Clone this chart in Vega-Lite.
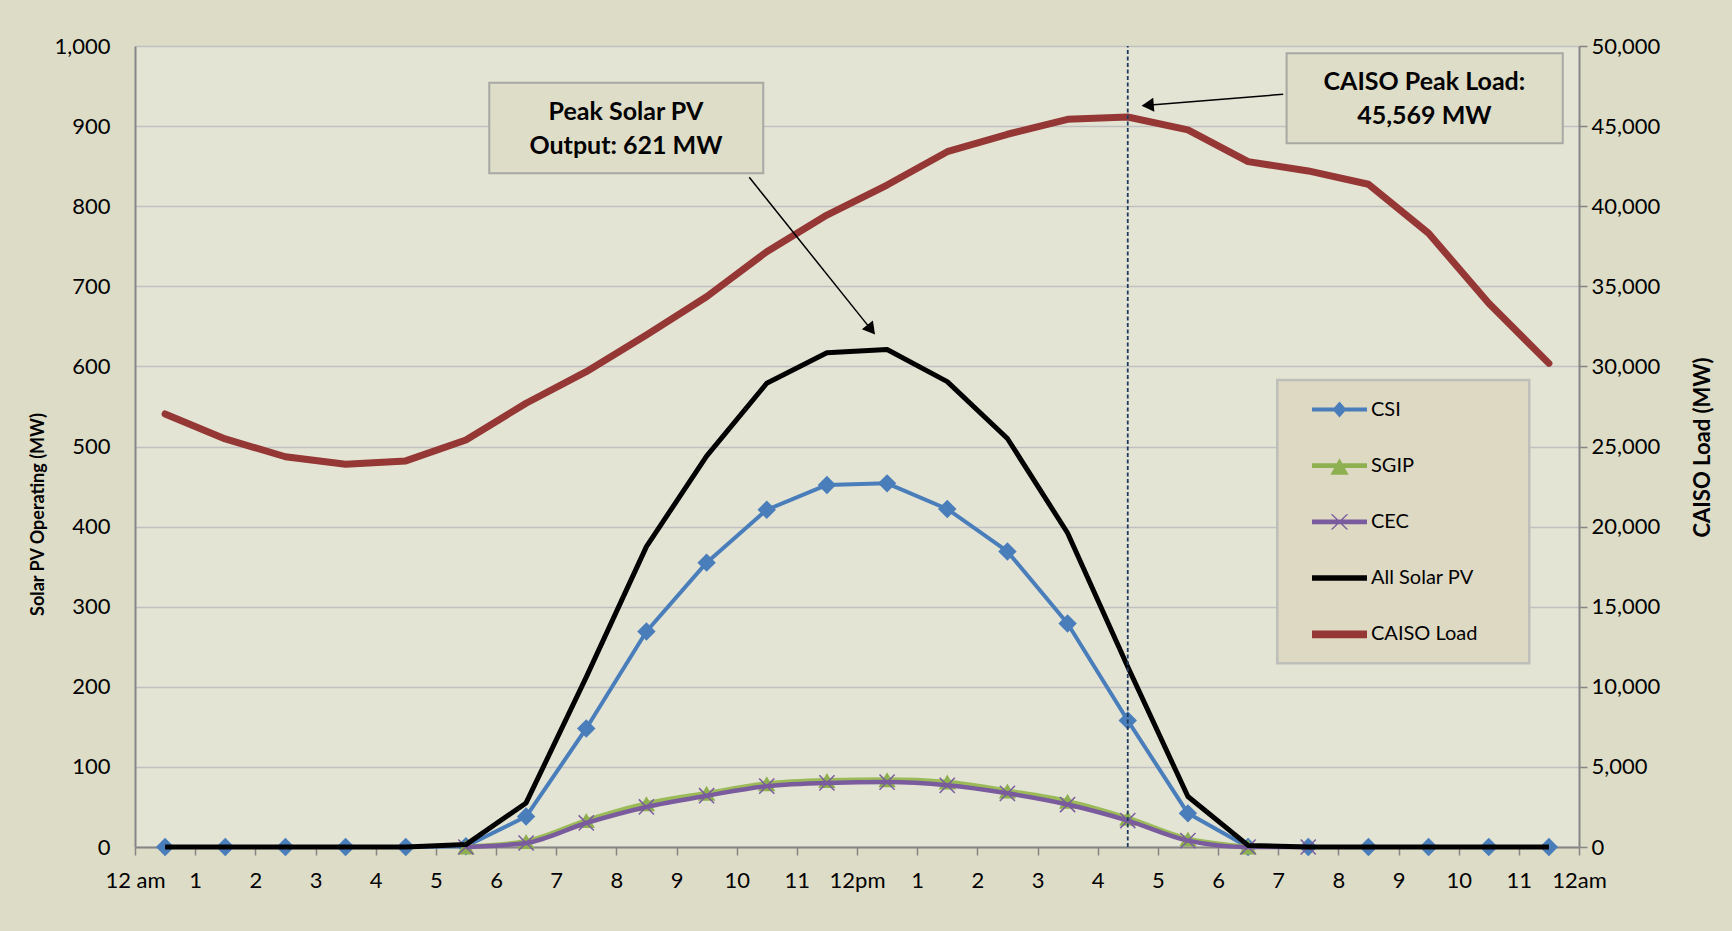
{
  "$schema": "https://vega.github.io/schema/vega-lite/v6.json",
  "width": 1444,
  "height": 801,
  "autosize": "none",
  "padding": {"left": 135, "top": 46, "right": 153, "bottom": 84},
  "background": "#DDDCC6",
  "config": {
    "font": "Lato",
    "view": {"fill": "#E4E4D5", "stroke": null},
    "axis": {
      "labelFont": "Lato",
      "titleFont": "Lato",
      "labelColor": "#000000",
      "titleColor": "#000000",
      "domainColor": "#868686",
      "domainWidth": 2,
      "tickColor": "#868686",
      "tickWidth": 1.5,
      "gridColor": "#C0C0C0",
      "gridWidth": 1.5
    }
  },
  "datasets": {
    "caiso": [
      {"h": 0.5, "load": 27030}, {"h": 1.5, "load": 25470}, {"h": 2.5, "load": 24360}, {"h": 3.5, "load": 23890},
      {"h": 4.5, "load": 24100}, {"h": 5.5, "load": 25410}, {"h": 6.5, "load": 27700}, {"h": 7.5, "load": 29670},
      {"h": 8.5, "load": 31960}, {"h": 9.5, "load": 34350}, {"h": 10.5, "load": 37160}, {"h": 11.5, "load": 39450},
      {"h": 12.5, "load": 41320}, {"h": 13.5, "load": 43400}, {"h": 14.5, "load": 44490}, {"h": 15.5, "load": 45420},
      {"h": 16.5, "load": 45569}, {"h": 17.5, "load": 44760}, {"h": 18.5, "load": 42780}, {"h": 19.5, "load": 42200},
      {"h": 20.5, "load": 41370}, {"h": 21.5, "load": 38310}, {"h": 22.5, "load": 33940}, {"h": 23.5, "load": 30190}
    ],
    "solar": [
      {"s": "CSI", "h": 0.5, "v": 0}, {"s": "CSI", "h": 1.5, "v": 0}, {"s": "CSI", "h": 2.5, "v": 0}, {"s": "CSI", "h": 3.5, "v": 0},
      {"s": "CSI", "h": 4.5, "v": 0}, {"s": "CSI", "h": 5.5, "v": 1}, {"s": "CSI", "h": 6.5, "v": 38}, {"s": "CSI", "h": 7.5, "v": 148},
      {"s": "CSI", "h": 8.5, "v": 269}, {"s": "CSI", "h": 9.5, "v": 355}, {"s": "CSI", "h": 10.5, "v": 421}, {"s": "CSI", "h": 11.5, "v": 452},
      {"s": "CSI", "h": 12.5, "v": 454}, {"s": "CSI", "h": 13.5, "v": 422}, {"s": "CSI", "h": 14.5, "v": 369}, {"s": "CSI", "h": 15.5, "v": 279},
      {"s": "CSI", "h": 16.5, "v": 158}, {"s": "CSI", "h": 17.5, "v": 42}, {"s": "CSI", "h": 18.5, "v": 0}, {"s": "CSI", "h": 19.5, "v": 0},
      {"s": "CSI", "h": 20.5, "v": 0}, {"s": "CSI", "h": 21.5, "v": 0}, {"s": "CSI", "h": 22.5, "v": 0}, {"s": "CSI", "h": 23.5, "v": 0},
      {"s": "SGIP", "h": 5.5, "v": 0}, {"s": "SGIP", "h": 6.5, "v": 7}, {"s": "SGIP", "h": 7.5, "v": 33}, {"s": "SGIP", "h": 8.5, "v": 54},
      {"s": "SGIP", "h": 9.5, "v": 67}, {"s": "SGIP", "h": 10.5, "v": 79}, {"s": "SGIP", "h": 11.5, "v": 83}, {"s": "SGIP", "h": 12.5, "v": 84},
      {"s": "SGIP", "h": 13.5, "v": 81}, {"s": "SGIP", "h": 14.5, "v": 70}, {"s": "SGIP", "h": 15.5, "v": 57}, {"s": "SGIP", "h": 16.5, "v": 36},
      {"s": "SGIP", "h": 17.5, "v": 10}, {"s": "SGIP", "h": 18.5, "v": 0},
      {"s": "CEC", "h": 5.5, "v": 0}, {"s": "CEC", "h": 6.5, "v": 5}, {"s": "CEC", "h": 7.5, "v": 30}, {"s": "CEC", "h": 8.5, "v": 50},
      {"s": "CEC", "h": 9.5, "v": 64}, {"s": "CEC", "h": 10.5, "v": 76}, {"s": "CEC", "h": 11.5, "v": 80}, {"s": "CEC", "h": 12.5, "v": 81},
      {"s": "CEC", "h": 13.5, "v": 77}, {"s": "CEC", "h": 14.5, "v": 67}, {"s": "CEC", "h": 15.5, "v": 53}, {"s": "CEC", "h": 16.5, "v": 33},
      {"s": "CEC", "h": 17.5, "v": 8}, {"s": "CEC", "h": 18.5, "v": 0}, {"s": "CEC", "h": 19.5, "v": 0},
      {"s": "All Solar PV", "h": 0.5, "v": 0}, {"s": "All Solar PV", "h": 1.5, "v": 0}, {"s": "All Solar PV", "h": 2.5, "v": 0}, {"s": "All Solar PV", "h": 3.5, "v": 0},
      {"s": "All Solar PV", "h": 4.5, "v": 0}, {"s": "All Solar PV", "h": 5.5, "v": 3}, {"s": "All Solar PV", "h": 6.5, "v": 55}, {"s": "All Solar PV", "h": 7.5, "v": 212},
      {"s": "All Solar PV", "h": 8.5, "v": 375}, {"s": "All Solar PV", "h": 9.5, "v": 488}, {"s": "All Solar PV", "h": 10.5, "v": 579}, {"s": "All Solar PV", "h": 11.5, "v": 617},
      {"s": "All Solar PV", "h": 12.5, "v": 621}, {"s": "All Solar PV", "h": 13.5, "v": 581}, {"s": "All Solar PV", "h": 14.5, "v": 510}, {"s": "All Solar PV", "h": 15.5, "v": 392},
      {"s": "All Solar PV", "h": 16.5, "v": 225}, {"s": "All Solar PV", "h": 17.5, "v": 63}, {"s": "All Solar PV", "h": 18.5, "v": 2}, {"s": "All Solar PV", "h": 19.5, "v": 0},
      {"s": "All Solar PV", "h": 20.5, "v": 0}, {"s": "All Solar PV", "h": 21.5, "v": 0}, {"s": "All Solar PV", "h": 22.5, "v": 0}, {"s": "All Solar PV", "h": 23.5, "v": 0}
    ],
    "boxes": [
      {"name": "peak solar", "h": 5.888, "h2": 10.442, "v": 954.2, "v2": 841.1},
      {"name": "peak load", "h": 19.14, "h2": 23.73, "v": 990.9, "v2": 878.5},
      {"name": "legend", "h": 18.985, "h2": 23.173, "v": 583.0, "v2": 229.3}
    ],
    "arrows": [
      {"name": "peak solar", "h": 10.209, "v": 836.1, "h2": 12.236, "v2": 645.9},
      {"name": "peak load", "h": 19.084, "v": 939.7, "h2": 16.831, "v2": 926.1}
    ],
    "peakline": [
      {"h": 16.5, "v": 0, "v2": 1000}
    ],
    "notes": [
      {"t": "Peak Solar PV", "h": 8.16, "v": 918},
      {"t": "Output: 621  MW", "h": 8.16, "v": 875.2},
      {"t": "CAISO Peak Load:", "h": 21.43, "v": 955.4},
      {"t": "45,569 MW", "h": 21.43, "v": 912.6}
    ],
    "series": [
      {"s": "CSI"}, {"s": "SGIP"}, {"s": "CEC"}, {"s": "All Solar PV"}, {"s": "CAISO Load"}
    ]
  },
  "encoding": {
    "x": {
      "field": "h",
      "type": "quantitative",
      "scale": {"domain": [0, 24], "nice": false, "zero": false},
      "axis": {
        "orient": "bottom",
        "title": null,
        "values": [0, 1, 2, 3, 4, 5, 6, 7, 8, 9, 10, 11, 12, 13, 14, 15, 16, 17, 18, 19, 20, 21, 22, 23, 24],
        "labelExpr": "datum.value == 0 ? '12 am' : datum.value == 24 ? '12am' : datum.value == 12 ? '12pm' : datum.value > 12 ? '' + (datum.value - 12) : '' + datum.value",
        "labelFontSize": 22,
        "labelBaseline": "middle",
        "labelPadding": 25,
        "tickSize": 8,
        "grid": false,
        "labelFlush": false,
        "labelOverlap": false,
        "labelBound": false
      }
    }
  },
  "layer": [
    {
      "data": {"name": "caiso"},
      "mark": {"type": "line", "color": "#953735", "strokeWidth": 7, "strokeJoin": "round", "strokeCap": "round"},
      "encoding": {
        "y": {
          "field": "load",
          "type": "quantitative",
          "scale": {"domain": [0, 50000], "nice": false, "zero": true},
          "axis": {
            "orient": "right",
            "title": "CAISO Load (MW)",
            "values": [0, 5000, 10000, 15000, 20000, 25000, 30000, 35000, 40000, 45000, 50000],
            "format": ",.0f",
            "labelFontSize": 22,
            "labelPadding": 4,
            "ticks": true,
            "tickSize": 8,
            "grid": false,
            "titleFontSize": 22,
            "titleFontWeight": "bold",
            "titleAngle": 270,
            "titleX": 123,
            "titleY": 401,
            "titleAlign": "center",
            "titleBaseline": "middle"
          }
        }
      }
    },
    {
      "encoding": {
        "y": {
          "field": "v",
          "type": "quantitative",
          "scale": {"domain": [0, 1000], "nice": false, "zero": true},
          "axis": {
            "orient": "left",
            "title": "Solar PV Operating (MW)",
            "values": [0, 100, 200, 300, 400, 500, 600, 700, 800, 900, 1000],
            "format": ",.0f",
            "labelFontSize": 22,
            "labelPadding": 25,
            "ticks": false,
            "grid": true,
            "titleFontSize": 18,
            "titleFontWeight": "bold",
            "titleAngle": 270,
            "titleX": -97,
            "titleY": 468,
            "titleAlign": "center",
            "titleBaseline": "middle"
          }
        }
      },
      "layer": [
        {
          "data": {"name": "solar"},
          "transform": [{"filter": "datum.s == 'CSI'"}],
          "mark": {"type": "line", "color": "#4A7EBB", "strokeWidth": 4, "strokeJoin": "round"}
        },
        {
          "data": {"name": "solar"},
          "transform": [{"filter": "datum.s == 'CSI'"}],
          "mark": {"type": "point", "shape": "diamond", "filled": true, "size": 340, "color": "#4A7EBB", "opacity": 1}
        },
        {
          "data": {"name": "solar"},
          "transform": [{"filter": "datum.s == 'SGIP'"}],
          "mark": {"type": "line", "color": "#9BBB59", "strokeWidth": 5, "strokeJoin": "round", "interpolate": "monotone"}
        },
        {
          "data": {"name": "solar"},
          "transform": [{"filter": "datum.s == 'SGIP'"}],
          "mark": {"type": "point", "shape": "triangle-up", "filled": true, "size": 300, "color": "#8FB050", "opacity": 1}
        },
        {
          "data": {"name": "solar"},
          "transform": [{"filter": "datum.s == 'CEC'"}],
          "mark": {"type": "line", "color": "#7A5C9E", "strokeWidth": 4.5, "strokeJoin": "round", "interpolate": "monotone"}
        },
        {
          "data": {"name": "solar"},
          "transform": [{"filter": "datum.s == 'CEC'"}],
          "mark": {"type": "point", "shape": "M-1,-1L1,1M-1,1L1,-1", "filled": false, "size": 230, "strokeWidth": 1.5, "color": "#7A5C9E", "opacity": 1}
        },
        {
          "data": {"name": "solar"},
          "transform": [{"filter": "datum.s == 'All Solar PV'"}],
          "mark": {"type": "line", "color": "#000000", "strokeWidth": 5, "strokeJoin": "round"}
        },
        {
          "data": {"name": "peakline"},
          "mark": {"type": "rule", "color": "#1F3A60", "strokeWidth": 1.8, "strokeDash": [4, 2.5]},
          "encoding": {"y2": {"field": "v2"}}
        },
        {
          "data": {"name": "boxes"},
          "transform": [{"filter": "datum.name != 'legend'"}],
          "mark": {"type": "rect", "fill": "#DEDDC7", "stroke": "#A8A8A4", "strokeWidth": 2},
          "encoding": {"x2": {"field": "h2"}, "y2": {"field": "v2"}}
        },
        {
          "data": {"name": "boxes"},
          "transform": [{"filter": "datum.name == 'legend'"}],
          "mark": {"type": "rect", "fill": "#DDD9C3", "stroke": "#BEBEBA", "strokeWidth": 2.5},
          "encoding": {"x2": {"field": "h2"}, "y2": {"field": "v2"}}
        },
        {
          "data": {"name": "arrows"},
          "mark": {"type": "rule", "color": "#000000", "strokeWidth": 1.5},
          "encoding": {"x2": {"field": "h2"}, "y2": {"field": "v2"}}
        },
        {
          "data": {"values": [{"h": 12.236, "v": 645.9}]},
          "mark": {"type": "point", "shape": "triangle-up", "filled": true, "size": 200, "color": "#000000", "opacity": 1, "angle": 141.3}
        },
        {
          "data": {"values": [{"h": 16.831, "v": 926.1}]},
          "mark": {"type": "point", "shape": "triangle-up", "filled": true, "size": 200, "color": "#000000", "opacity": 1, "angle": 265.4}
        },
        {
          "data": {"name": "notes"},
          "mark": {"type": "text", "font": "Lato", "fontWeight": "bold", "fontSize": 25, "color": "#000000", "align": "center", "baseline": "middle"},
          "encoding": {"text": {"field": "t"}}
        },
        {
          "data": {"name": "series"},
          "transform": [{"filter": "false"}],
          "mark": {"type": "point", "filled": true, "opacity": 1, "size": 3025},
          "encoding": {
            "color": {
              "field": "s",
              "type": "nominal",
              "scale": {
                "domain": ["CSI", "SGIP", "CEC", "All Solar PV", "CAISO Load"],
                "range": ["#4A7EBB", "#8FB050", "#7A5C9E", "#000000", "#953735"]
              },
              "legend": {
                "orient": "none", "legendX": 1177, "legendY": 336, "title": null,
                "symbolSize": 3025, "symbolStrokeWidth": 0, "symbolOpacity": 1,
                "labelFont": "Lato", "labelFontSize": 20, "labelColor": "#000000",
                "labelOffset": 4, "rowPadding": 18.2, "padding": 0, "labelLimit": 300
              }
            },
            "shape": {
              "field": "s",
              "type": "nominal",
              "scale": {
                "domain": ["CSI", "SGIP", "CEC", "All Solar PV", "CAISO Load"],
                "range": [
                  "M-1,-0.073H1V0.073H-1Z M0,-0.29L0.255,0L0,0.29L-0.255,0Z",
                  "M-1,-0.085H1V0.085H-1Z M0,-0.27L0.33,0.33L-0.33,0.33Z",
                  "M-1,-0.085H1V0.085H-1Z M-0.32,-0.28L-0.25,-0.28L0.32,0.28L0.25,0.28Z M0.25,-0.28L0.32,-0.28L-0.25,0.28L-0.32,0.28Z",
                  "M-1,-0.1H1V0.1H-1Z",
                  "M-1,-0.14H1V0.14H-1Z"
                ]
              },
              "legend": {
                "orient": "none", "legendX": 1177, "legendY": 336, "title": null,
                "symbolSize": 3025, "symbolStrokeWidth": 0, "symbolOpacity": 1,
                "labelFont": "Lato", "labelFontSize": 20, "labelColor": "#000000",
                "labelOffset": 4, "rowPadding": 18.2, "padding": 0, "labelLimit": 300
              }
            }
          }
        }
      ]
    }
  ],
  "resolve": {"scale": {"y": "independent"}}
}
